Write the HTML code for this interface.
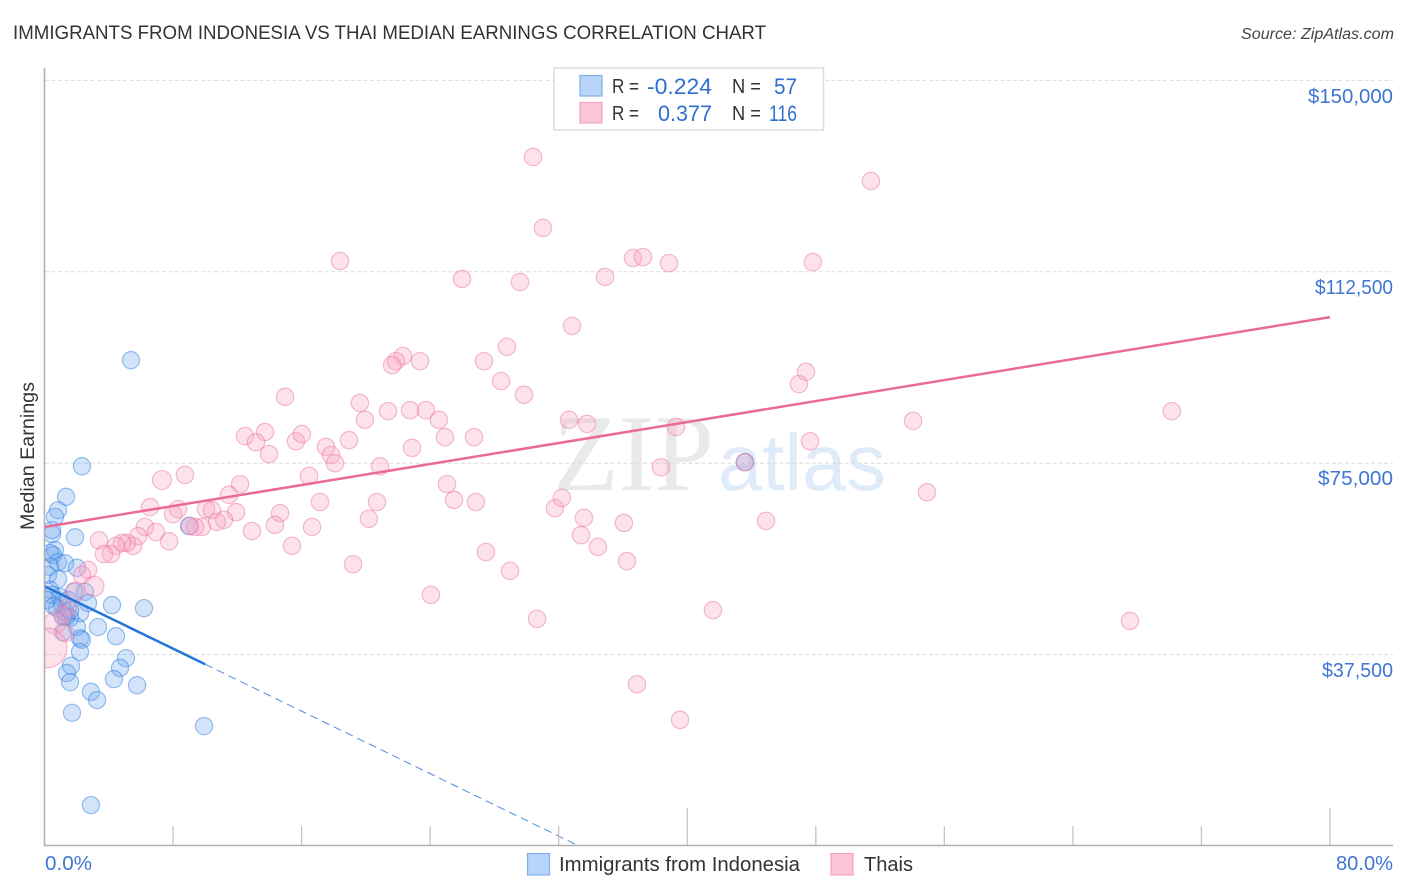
<!DOCTYPE html>
<html lang="en">
<head>
<meta charset="utf-8">
<title>Immigrants from Indonesia vs Thai Median Earnings Correlation Chart</title>
<style>
html,body{margin:0;padding:0;background:#fff;}
svg{display:block;font-family:"Liberation Sans",sans-serif;}
</style>
</head>
<body>
<svg id="chart" xmlns="http://www.w3.org/2000/svg" width="1406" height="892" viewBox="0 0 1406 892">
  <rect x="0" y="0" width="1406" height="892" fill="#ffffff"/>

  <g>
    <text x="553" y="490" font-family="'Liberation Serif',serif" font-size="109" fill="#e9e9e9" textLength="161" lengthAdjust="spacingAndGlyphs">ZIP</text>
    <text x="718" y="490" font-size="80" fill="#e0ebf9" textLength="168" lengthAdjust="spacingAndGlyphs">atlas</text>
  </g>

  <g id="grid"></g>
  <g id="blue-points"></g>
  <g id="pink-points"></g>
  <g id="trends"></g>
  <rect x="0" y="60" width="44.5" height="790" fill="#ffffff"/>
  <g id="axes"></g>

  <text x="13" y="39" font-size="19.5" fill="#333" textLength="753" lengthAdjust="spacingAndGlyphs">IMMIGRANTS FROM INDONESIA VS THAI MEDIAN EARNINGS CORRELATION CHART</text>
  <text x="1241" y="39" font-size="15.5" font-style="italic" fill="#444" textLength="153" lengthAdjust="spacingAndGlyphs">Source: ZipAtlas.com</text>

  <g font-size="20" fill="#3f76d4">
    <text x="1308" y="103" textLength="85" lengthAdjust="spacingAndGlyphs">$150,000</text>
    <text x="1315" y="294" textLength="78" lengthAdjust="spacingAndGlyphs">$112,500</text>
    <text x="1318" y="485" textLength="75" lengthAdjust="spacingAndGlyphs">$75,000</text>
    <text x="1322" y="677" textLength="71" lengthAdjust="spacingAndGlyphs">$37,500</text>
  </g>
  <text x="45" y="870" font-size="20" fill="#3f76d4" textLength="47" lengthAdjust="spacingAndGlyphs">0.0%</text>
  <text x="1336" y="870" font-size="20" fill="#3f76d4" textLength="57" lengthAdjust="spacingAndGlyphs">80.0%</text>
  <text transform="translate(34,530) rotate(-90)" x="0" y="0" font-size="19" fill="#333" textLength="148" lengthAdjust="spacingAndGlyphs">Median Earnings</text>

  <g>
    <rect x="554" y="68" width="269.5" height="62" fill="#fff" stroke="#dddddd" stroke-width="1.5"/>
    <rect x="580" y="75.5" width="22" height="20.5" fill="#b8d4f8" stroke="#7fb0ea" stroke-width="1.2"/>
    <rect x="580" y="102.5" width="22" height="20.5" fill="#fcc6d8" stroke="#f0a4bf" stroke-width="1.2"/>
    <g font-size="20" fill="#333">
      <text x="612" y="93" textLength="27" lengthAdjust="spacingAndGlyphs">R =</text>
      <text x="612" y="120" textLength="27" lengthAdjust="spacingAndGlyphs">R =</text>
      <text x="732" y="93" textLength="29" lengthAdjust="spacingAndGlyphs">N =</text>
      <text x="732" y="120" textLength="29" lengthAdjust="spacingAndGlyphs">N =</text>
    </g>
    <g font-size="22" fill="#2f6fd0">
      <text x="647" y="94" textLength="65" lengthAdjust="spacingAndGlyphs">-0.224</text>
      <text x="658" y="121" textLength="54" lengthAdjust="spacingAndGlyphs">0.377</text>
      <text x="774" y="94" textLength="23" lengthAdjust="spacingAndGlyphs">57</text>
      <text x="769" y="121" textLength="28" lengthAdjust="spacingAndGlyphs">116</text>
    </g>
  </g>

  <g>
    <rect x="527.5" y="853.5" width="22" height="21.5" fill="#b8d4f8" stroke="#7fb0ea" stroke-width="1.2"/>
    <text x="559" y="871" font-size="20" fill="#333" textLength="241" lengthAdjust="spacingAndGlyphs">Immigrants from Indonesia</text>
    <rect x="831" y="853.5" width="22" height="21.5" fill="#fcc6d8" stroke="#f0a4bf" stroke-width="1.2"/>
    <text x="864" y="871" font-size="20" fill="#333" textLength="49" lengthAdjust="spacingAndGlyphs">Thais</text>
  </g>
</svg>
<script>
const yGridValues = [37500, 75000, 112500, 150000];
const xTickValues = [8, 16, 24, 32, 40, 48, 56, 64, 72, 80];
const xMajorTickValues = [40, 80];

const blueX = [5.38,2.33,1.34,0.84,0.65,0.47,1.90,0.65,0.53,0.34,0.84,1.28,2.02,0.34,0.22,0.84,0.34,0.47,0.96,1.84,2.52,2.71,4.20,6.19,2.21,0.78,1.28,1.15,1.59,3.33,4.45,2.02,1.15,2.21,2.33,2.21,1.65,1.40,1.59,5.07,4.70,4.32,5.76,2.89,3.27,1.71,9.93,2.89,8.99,43.59,0.47,0.16,1.46,1.09,1.34,1.59,0.59];
const blueY = [95200,74400,68400,65800,64500,61100,60500,58000,57000,57400,55600,55400,54500,54700,53100,52300,50200,49200,48800,49800,49800,47600,47200,46600,45600,46600,45800,44900,44700,42900,41100,42900,41900,40700,40400,38000,35300,33900,32100,36800,34900,32700,31500,30200,28600,26100,23500,8000,62700,75200,61900,48200,48200,47400,44900,46200,47000];

const pinkX = [30.40,31.02,51.43,18.39,25.98,29.59,34.88,36.62,37.24,38.86,47.82,32.83,28.78,27.35,22.31,21.87,21.63,23.37,28.41,29.84,14.97,19.63,19.94,21.38,22.75,23.74,24.55,24.92,26.73,32.64,33.76,39.30,46.95,47.39,47.64,54.05,70.16,12.48,13.72,13.16,13.97,15.65,16.02,17.52,17.83,18.08,18.95,20.88,22.87,16.46,17.14,16.65,20.19,20.69,25.05,25.48,26.85,31.77,32.20,33.57,33.39,34.44,36.06,36.25,38.36,43.59,44.90,54.92,41.60,67.55,30.65,24.05,19.20,27.47,28.97,36.87,39.55,7.31,8.74,12.17,11.48,6.57,8.31,8.00,10.05,10.42,11.92,14.66,14.34,11.17,10.73,9.80,9.37,9.05,12.91,15.40,6.25,6.94,5.82,7.75,3.39,5.51,5.13,4.82,4.45,4.14,3.70,2.71,2.33,3.08,1.90,1.46,1.15,0.65,1.28,0.16];
const pinkY = [135000,121100,130300,114600,111100,110500,111500,115200,115400,114200,114400,101900,97800,95000,96000,95000,94200,95000,91100,88400,88000,86800,83500,85200,85400,85400,83500,80100,80100,83500,82700,82100,90500,92900,79300,83300,85200,80300,81100,79100,76800,79300,80700,78200,76600,75000,79500,74400,78000,72500,67400,62500,64100,67400,70900,67800,67400,66200,68200,64300,60900,58600,63300,55800,74200,75200,63700,69300,46200,44100,44500,49200,55200,57600,53900,31700,24700,71700,72700,70900,68800,66400,66000,65000,66000,65800,65400,65200,62900,63900,63500,62500,62500,62700,61700,58800,62500,61500,60700,59700,59900,58800,59400,59400,58800,57200,57200,54100,53100,50900,49800,46800,45300,43700,41700,38800];
const pinkWeightIndex = [77, 109, 110, 113, 115];
const pinkWeightValue = [1.19, 1.32, 1.25, 1.6, 5.2];

const blueTrendIntercept = 50900;
const blueTrendSlope = -1530;
const blueSolidEnd = 10;
const blueDashEnd = 33.2;
const pinkTrendIntercept = 62500;
const pinkTrendSlope = 514;
const pinkTrendEnd = 80;

const SVG_NS = 'http://www.w3.org/2000/svg';
function xScale(v) { return 44.5 + v * 1285.5 / 80; }
function yScale(v) { return 846 - v * 765.6 / 150000; }
function make(tag, parent, attrs) {
  const el = document.createElementNS(SVG_NS, tag);
  for (const k in attrs) el.setAttribute(k, attrs[k]);
  parent.appendChild(el);
  return el;
}

const grid = document.getElementById('grid');
yGridValues.forEach(function (v) {
  const y = yScale(v);
  const el = make('line', grid, {x1: 45, x2: 1393, y1: y, y2: y, stroke: '#dcdcdc', 'stroke-width': 1, 'stroke-dasharray': '4 2.5'});
  
  
});

const axes = document.getElementById('axes');
const yAxisLine = make('line', axes, {x1: 44.5, x2: 44.5, y1: 68, y2: 846, stroke: '#b0b0b0', 'stroke-width': 1.6});


const xAxisLine = make('line', axes, {x1: 44, x2: 1393, y1: 845.5, y2: 845.5, stroke: '#b0b0b0', 'stroke-width': 1.6});


xTickValues.forEach(function (v) {
  const x = xScale(v);
  const top = xMajorTickValues.indexOf(v) >= 0 ? 808 : 826;
  const el = make('line', axes, {x1: x, x2: x, y1: top, y2: 845, stroke: '#c4c4c4', 'stroke-width': 1.3});
  
  
});

const bluePoints = document.getElementById('blue-points');
blueX.forEach(function (v, i) {
  const el = make('circle', bluePoints, {cx: xScale(v), cy: yScale(blueY[i]), r: 8.6, fill: 'rgba(110,165,240,0.3)', stroke: 'rgba(45,125,225,0.48)', 'stroke-width': 1.2});
  
  
});

const pinkPoints = document.getElementById('pink-points');
pinkX.forEach(function (v, i) {
  const k = pinkWeightIndex.indexOf(i);
  const weight = k >= 0 ? pinkWeightValue[k] : 1;
  const el = make('circle', pinkPoints, {cx: xScale(v), cy: yScale(pinkY[i]), r: 8.7 * Math.sqrt(weight), fill: 'rgba(250,165,195,0.33)', stroke: 'rgba(232,110,155,0.45)', 'stroke-width': 1.2});
  
  
});

const trends = document.getElementById('trends');
function blueTrend(x) { return blueTrendIntercept + blueTrendSlope * x; }
function pinkTrend(x) { return pinkTrendIntercept + pinkTrendSlope * x; }
const blueDash = make('line', trends, {x1: xScale(blueSolidEnd), y1: yScale(blueTrend(blueSolidEnd)), x2: xScale(blueDashEnd), y2: yScale(blueTrend(blueDashEnd)), stroke: '#2f76d8', 'stroke-width': 1, 'stroke-dasharray': '8 5', opacity: 0.85});


const blueSolid = make('line', trends, {x1: xScale(0), y1: yScale(blueTrend(0)), x2: xScale(blueSolidEnd), y2: yScale(blueTrend(blueSolidEnd)), stroke: '#2474d9', 'stroke-width': 2.5});


const pinkLine = make('line', trends, {x1: xScale(0), y1: yScale(pinkTrend(0)), x2: xScale(pinkTrendEnd), y2: yScale(pinkTrend(pinkTrendEnd)), stroke: '#ea6a98', 'stroke-width': 2.5});


</script>
</body>
</html>
